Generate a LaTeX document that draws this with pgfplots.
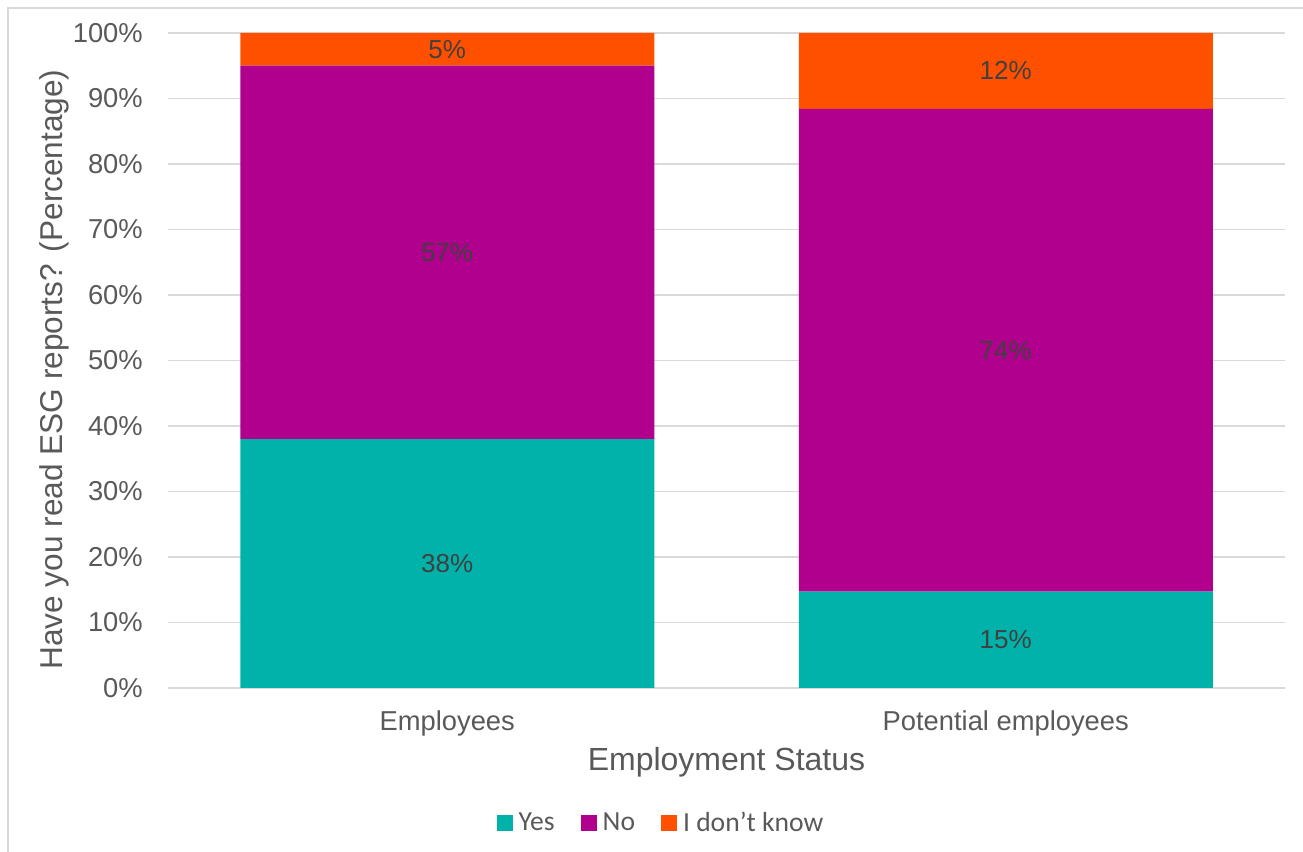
\documentclass[border=0pt]{standalone}
\usepackage{fontspec}
\setmainfont{Liberation Sans}
\newfontfamily\carlito{Carlito}
\usepackage{pgfplots}
\usepackage{pgfplotstable}
\pgfplotsset{compat=1.18}
\definecolor{cteal}{HTML}{00B2AA}
\definecolor{cpurple}{HTML}{B1008D}
\definecolor{corange}{HTML}{FF5000}
\definecolor{cgrid}{HTML}{D9D9D9}
\definecolor{ctext}{HTML}{595959}
\definecolor{clabel}{HTML}{404040}

\pgfplotstableread{
x yes no idk
0 38 57 5
1 14.7 73.7 11.6
}\esgdata

\pgfplotsset{
  seglabel/.style={
    visualization depends on={\thisrow{#1}\as\rawy},
    nodes near coords={\pgfmathprintnumber[fixed,precision=0]{\rawy}\%},
    every node near coord/.style={
      anchor=center,
      font=\fontsize{19.5pt}{22pt}\selectfont,
      text=clabel,
      inner sep=0pt
    }
  }
}

\begin{document}
\begin{tikzpicture}
\begin{scope}[x=0.75pt,y=0.75pt]
  \useasboundingbox (0,0) rectangle (1303,852);
  \draw[cgrid,line width=1.1pt] (8,-5) -- (8,844) -- (1310,844);
\end{scope}
\begin{axis}[
  at={(126pt,123pt)}, anchor=south west,
  scale only axis,
  width=837.75pt, height=491.25pt,
  ybar stacked,
  bar width=310.5pt,
  xmin=-0.5, xmax=1.5,
  ymin=0, ymax=100,
  xtick=data,
  xticklabels={Employees, Potential employees},
  ytick={0,10,...,100},
  yticklabel={\pgfmathprintnumber{\tick}\%},
  /pgf/number format/assume math mode=true,
  axis line style={draw=none},
  tick style={draw=none},
  ymajorgrids,
  grid style={cgrid, line width=1.1pt},
  every tick label/.append style={font=\fontsize{20.5pt}{24pt}\selectfont, text=ctext, inner sep=0pt},
  yticklabel style={anchor=east, xshift=-18.75pt},
  xticklabel style={anchor=base, yshift=-32.25pt},
  xlabel={Employment Status},
  ylabel={Have you read ESG reports? (Percentage)},
  xlabel style={at={(axis description cs:0.5,-0.1267)}, anchor=base, font=\fontsize{24pt}{28pt}\selectfont, text=ctext, inner sep=0pt},
  ylabel style={at={(axis description cs:-0.0949,0.4863)}, anchor=base, font=\fontsize{23.7pt}{28pt}\selectfont, text=ctext, inner sep=0pt},
  legend columns=3,
  legend style={
    at={(axis description cs:0.4405,-0.2061)}, anchor=center,
    draw=none, fill=none,
    font=\carlito\fontsize{20.7pt}{24pt}\selectfont, text=ctext,
    nodes={inner sep=0pt},
    /tikz/every odd column/.append style={column sep=4.5pt},
    /tikz/every even column/.append style={column sep=19.5pt},
  },
  legend image code/.code={\fill[#1] (0pt,-6pt) rectangle (12pt,6pt);},
]
\addplot[fill=cteal, draw=none, seglabel=yes] table[x=x,y=yes] {\esgdata};
\addlegendentry{Yes}
\addplot[fill=cpurple, draw=none, seglabel=no] table[x=x,y=no] {\esgdata};
\addlegendentry{No}
\addplot[fill=corange, draw=none, seglabel=idk] table[x=x,y=idk] {\esgdata};
\addlegendentry{I don’t know}
\end{axis}
\end{tikzpicture}
\end{document}
